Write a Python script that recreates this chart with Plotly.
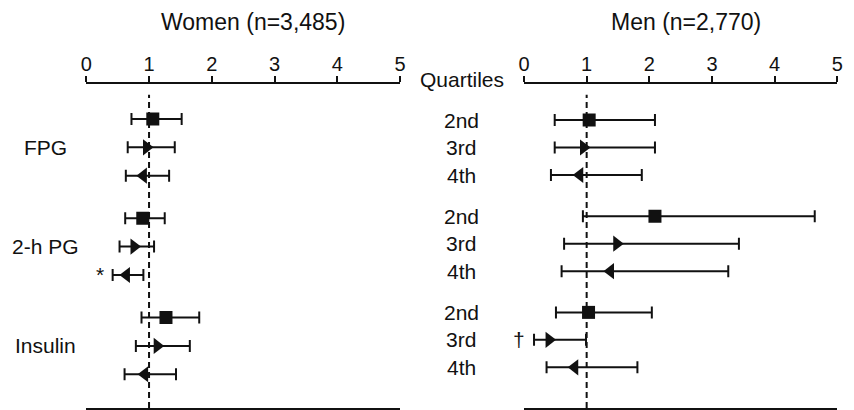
import plotly.graph_objects as go

# ---------------- data ----------------
groups = ["FPG", "2-h PG", "Insulin"]
quartiles = ["2nd", "3rd", "4th"]
panel_titles = ["Women (n=3,485)", "Men (n=2,770)"]
tick_vals = [0, 1, 2, 3, 4, 5]

# rows ordered: FPG 2nd,3rd,4th, 2-h PG 2nd,3rd,4th, Insulin 2nd,3rd,4th
women_or = [1.06, 0.96, 0.91, 0.90, 0.76, 0.64, 1.27, 1.13, 0.93]
women_lo = [0.72, 0.66, 0.63, 0.62, 0.53, 0.42, 0.88, 0.79, 0.61]
women_hi = [1.52, 1.41, 1.32, 1.25, 1.08, 0.91, 1.80, 1.65, 1.43]

men_or = [1.04, 0.95, 0.89, 2.09, 1.48, 1.38, 1.03, 0.40, 0.81]
men_lo = [0.49, 0.49, 0.43, 0.94, 0.64, 0.60, 0.51, 0.16, 0.36]
men_hi = [2.09, 2.09, 1.88, 4.64, 3.43, 3.26, 2.04, 0.99, 1.81]

women_marks = {5: "*"}   # row index -> significance mark
men_marks = {7: "\u2020"}

# ---------------- style ----------------
INK = "#111111"
FONT = "Liberation Sans, Arial, Helvetica, sans-serif"
symbols = ["square", "triangle-right", "triangle-left"]
sizes = [13, 14, 14]
GROUP_PITCH = 3.5

# page body has an 8px margin: work in screen pixels, shifted by OFF
OFF = 8
W, H = 854 - OFF, 410 - OFF

def px_x(p):
    return (p - OFF) / W

def px_y(p):
    return 1 - (p - OFF) / H

def row_y(i):
    g, q = divmod(i, 3)
    return g * GROUP_PITCH + q

fig = go.Figure()

panels = [
    ("x", "y", women_or, women_lo, women_hi, women_marks),
    ("x2", "y2", men_or, men_lo, men_hi, men_marks),
]

for xa, ya, est, lo, hi, marks in panels:
    for q in range(3):
        idx = [g * 3 + q for g in range(3)]
        fig.add_trace(go.Scatter(
            x=[est[i] for i in idx],
            y=[row_y(i) for i in idx],
            mode="markers",
            xaxis=xa, yaxis=ya,
            marker=dict(symbol=symbols[q], size=sizes[q], color=INK),
            error_x=dict(type="data", symmetric=False,
                         array=[hi[i] - est[i] for i in idx],
                         arrayminus=[est[i] - lo[i] for i in idx],
                         color=INK, thickness=2, width=6),
            showlegend=False, hoverinfo="skip",
        ))
    for i, m in marks.items():
        fig.add_annotation(x=lo[i], y=row_y(i), xref=xa, yref=ya, text=m,
                           showarrow=False, xanchor="right", xshift=-7,
                           font=dict(size=21, color=INK, family=FONT))

ydom = [px_y(408), px_y(83.5)]

xcommon = dict(range=[0, 5], side="top", tickvals=tick_vals, ticks="outside",
               ticklen=6, tickwidth=2, tickcolor=INK, showline=True,
               linewidth=2, linecolor=INK, mirror=True, showgrid=False,
               zeroline=False, tickfont=dict(size=20, color=INK, family=FONT),
               ticklabelstandoff=-3, automargin=False, fixedrange=True)
ycommon = dict(showgrid=False, zeroline=False, showticklabels=False,
               showline=False, ticks="", automargin=False, fixedrange=True)

fig.update_layout(
    width=W, height=H,
    margin=dict(l=0, r=0, t=0, b=0, autoexpand=False),
    paper_bgcolor="white", plot_bgcolor="white",
    showlegend=False,
    font=dict(family=FONT, color=INK),
    xaxis=dict(domain=[px_x(86.3), px_x(400)], anchor="y", **xcommon),
    xaxis2=dict(domain=[px_x(524), px_x(837.3)], anchor="y2", **xcommon),
    yaxis=dict(domain=ydom, anchor="x", range=[10.19, -1.25], **ycommon),
    yaxis2=dict(domain=ydom, anchor="x2", range=[10.48, -1.33], **ycommon),
)

# reference lines at OR = 1
for xa, ya in [("x", "y"), ("x2", "y2")]:
    fig.add_shape(type="line", xref=xa, yref=f"{ya} domain", x0=1, x1=1,
                  y0=0, y1=0.965, line=dict(color=INK, width=2, dash="6px,4px"))

# panel titles
for title, cx in zip(panel_titles, [253, 686]):
    fig.add_annotation(x=px_x(cx), y=px_y(22), xref="paper", yref="paper",
                       text=title, showarrow=False, xanchor="center",
                       yanchor="middle", font=dict(size=23, color=INK, family=FONT))

# group labels (women panel)
for g, name in enumerate(groups):
    fig.add_annotation(x=px_x(45), y=row_y(g * 3 + 1), xref="paper", yref="y",
                       text=name, showarrow=False, xanchor="center",
                       yanchor="middle", font=dict(size=21, color=INK, family=FONT))

# quartile labels (men panel)
fig.add_annotation(x=px_x(461.5), y=px_y(79), xref="paper", yref="paper",
                   text="Quartiles", showarrow=False, xanchor="center",
                   yanchor="middle", font=dict(size=21, color=INK, family=FONT))
for i in range(9):
    fig.add_annotation(x=px_x(461), y=row_y(i), xref="paper", yref="y2",
                       text=quartiles[i % 3], showarrow=False, xanchor="center",
                       yanchor="middle", font=dict(size=21, color=INK, family=FONT))

fig.write_html("out.html")
